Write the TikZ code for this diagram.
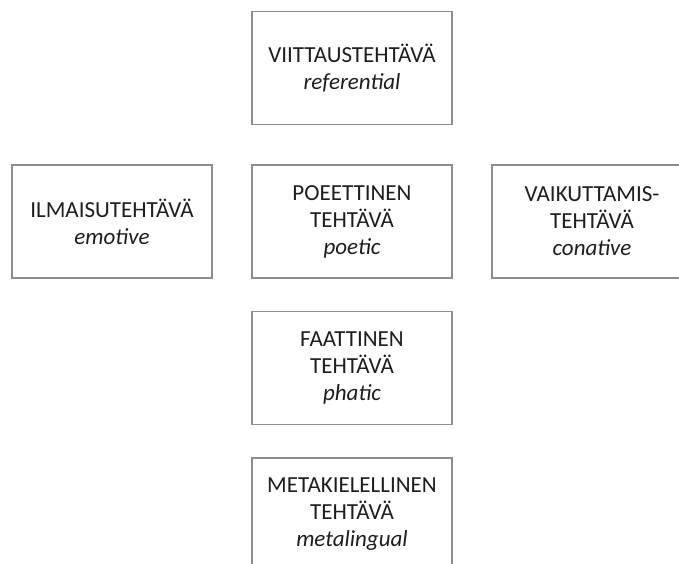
\documentclass[tikz,border=0pt]{standalone}
\usepackage{fontspec}
\setmainfont{Carlito}
\begin{document}
\begin{tikzpicture}[x=1pt,y=-1pt,
  fbox/.style={draw=boxgray, line width=1.5pt, fill=white, minimum width=200pt, minimum height=113pt,
    inner sep=0pt, align=center, text=textdark, font=\fontsize{23}{27}\selectfont}]
\definecolor{boxgray}{HTML}{8C8C8C}
\definecolor{textdark}{HTML}{1E1E1E}
\useasboundingbox (0,0) rectangle (679,563);
\clip (0,0) rectangle (679,563);
\node[fbox] (ref) at (352,68) {VIITTAUSTEHTÄVÄ\\\textit{referential}};
\node[fbox] (emo) at (112,221.5) {ILMAISUTEHTÄVÄ\\\textit{emotive}};
\node[fbox] (poe) at (352,221.5) {POEETTINEN\\TEHTÄVÄ\\\textit{poetic}};
\node[fbox] (con) at (592,221.5) {VAIKUTTAMIS-\\TEHTÄVÄ\\\textit{conative}};
\node[fbox] (pha) at (352,368) {FAATTINEN\\TEHTÄVÄ\\\textit{phatic}};
\node[fbox] (met) at (352,514.5) {METAKIELELLINEN\\TEHTÄVÄ\\\textit{metalingual}};
\end{tikzpicture}
\end{document}
